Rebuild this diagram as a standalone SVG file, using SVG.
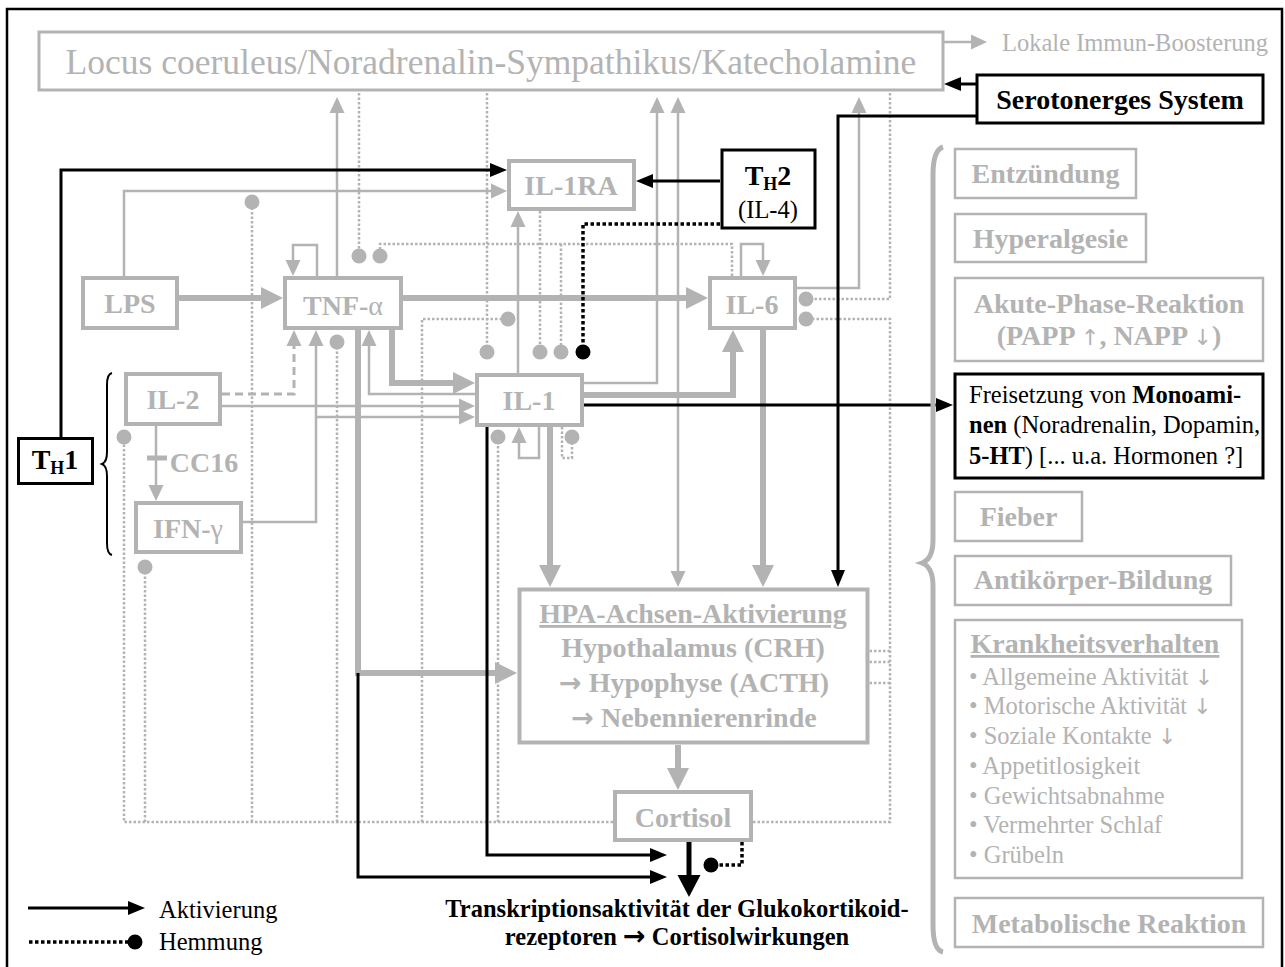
<svg xmlns="http://www.w3.org/2000/svg" width="1285" height="967" viewBox="0 0 1285 967">
<style>
  text { font-family: "Liberation Serif", "Times New Roman", serif; }
  .lbl { font-size: 28px; font-weight: bold; fill: #b3b3b3; text-anchor: middle; }
  .sm { font-size: 24.5px; }
  .gray { fill: #b3b3b3; }
  .blk { fill: #000; }
  .arr { font-family: "DejaVu Sans", sans-serif; font-weight: bold; font-size: 27px; }
  .arn { font-family: "DejaVu Sans", sans-serif; font-weight: normal; font-size: 22px; }
  .box { fill: #fff; stroke: #b3b3b3; stroke-width: 4; }
  .boxr { fill: #fff; stroke: #b3b3b3; stroke-width: 2.5; }
  .boxk { fill: #fff; stroke: #000; stroke-width: 3; }
  .g { fill: none; stroke: #b3b3b3; stroke-width: 2.5; }
  .gt { fill: none; stroke: #b3b3b3; stroke-width: 6; }
  .gd { fill: none; stroke: #b3b3b3; stroke-width: 2.5; stroke-dasharray: 2.5 2; }
  .gdash { fill: none; stroke: #b3b3b3; stroke-width: 3; stroke-dasharray: 8 5; }
  .k { fill: none; stroke: #000; stroke-width: 3; }
  .kt { fill: none; stroke: #000; stroke-width: 5; }
  .kd { fill: none; stroke: #000; stroke-width: 3.5; stroke-dasharray: 3.5 2.5; }
</style>
<defs>
  <!-- arrowheads: reference point sits at the base, tip extends beyond the path end -->
  <marker id="ag" markerUnits="userSpaceOnUse" markerWidth="17" markerHeight="16" refX="1" refY="7.5" orient="auto-start-reverse" overflow="visible">
    <path d="M0,0 L16,7.5 L0,15 z" fill="#b3b3b3"/>
  </marker>
  <marker id="agL" markerUnits="userSpaceOnUse" markerWidth="23" markerHeight="23" refX="1" refY="11" orient="auto" overflow="visible">
    <path d="M0,0 L22,11 L0,22 z" fill="#b3b3b3"/>
  </marker>
  <marker id="ak" markerUnits="userSpaceOnUse" markerWidth="18" markerHeight="15" refX="1" refY="7" orient="auto" overflow="visible">
    <path d="M0,0 L17,7 L0,14 z" fill="#000"/>
  </marker>
  <marker id="akL" markerUnits="userSpaceOnUse" markerWidth="23" markerHeight="24" refX="1" refY="11.5" orient="auto" overflow="visible">
    <path d="M0,0 L22,11.5 L0,23 z" fill="#000"/>
  </marker>
  <!-- inhibition dots -->
  <marker id="dg" markerUnits="userSpaceOnUse" markerWidth="16" markerHeight="16" refX="8" refY="8" orient="auto" overflow="visible">
    <circle cx="8" cy="8" r="7.5" fill="#b3b3b3"/>
  </marker>
  <marker id="dk" markerUnits="userSpaceOnUse" markerWidth="16" markerHeight="16" refX="8" refY="8" orient="auto" overflow="visible">
    <circle cx="8" cy="8" r="7.5" fill="#000"/>
  </marker>
</defs>

<rect x="0" y="0" width="1285" height="967" fill="#fff"/>
<!-- outer frame -->
<rect x="7" y="9" width="1275" height="962" fill="none" stroke="#000" stroke-width="2.5"/>

<g id="connectors">
  <!-- thin grey activations -->
  <path class="g" d="M944,42 H972" marker-end="url(#ag)"/>
  <path class="g" d="M337,276 V112" marker-end="url(#ag)"/>
  <path class="g" d="M317,276 V245 H293 V261" marker-end="url(#ag)"/>
  <path class="g" d="M124,276 V191 H492" marker-end="url(#ag)"/>
  <path class="g" d="M518,373 V226" marker-end="url(#ag)"/>
  <path class="g" d="M584,383 H657 V112" marker-end="url(#ag)"/>
  <path class="g" d="M678,112 V572" marker-start="url(#ag)" marker-end="url(#ag)"/>
  <path class="g" d="M797,288 H859 V112" marker-end="url(#ag)"/>
  <path class="g" d="M741,276 V244 H763 V261" marker-end="url(#ag)"/>
  <path class="gdash" d="M222,394 H294 V345" marker-end="url(#ag)"/>
  <path class="g" d="M222,406 H460" marker-end="url(#ag)"/>
  <path class="g" d="M243,522 H316 V345" marker-end="url(#ag)"/>
  <path class="g" d="M316,417 H460" marker-end="url(#ag)"/>
  <path class="g" d="M475,394 H369 V345" marker-end="url(#ag)"/>
  <path class="g" d="M156,426 V486" marker-end="url(#ag)"/>
  <path class="g" d="M539,427 V458 H519 V442" marker-end="url(#ag)"/>
  <!-- CC16 block bar -->
  <path d="M147,458 H167" stroke="#b3b3b3" stroke-width="5" fill="none"/>

  <!-- thick grey activations -->
  <path class="gt" d="M179,298 H262" marker-end="url(#agL)"/>
  <path class="gt" d="M403,298 H687" marker-end="url(#agL)"/>
  <path class="gt" stroke-width="5" d="M392,330 V383 H454" marker-end="url(#agL)"/>
  <path class="gt" d="M584,395 H733 V351" marker-end="url(#agL)"/>
  <path class="gt" stroke-width="5" d="M550,427 V566" marker-end="url(#agL)"/>
  <path class="gt" stroke-width="5" d="M763,330 V566" marker-end="url(#agL)"/>
  <path class="gt" d="M358,330 V673 H496" marker-end="url(#agL)"/>
  <path class="gt" d="M678,745 V769" marker-end="url(#agL)"/>

  <!-- grey inhibitions -->
  <path class="gd" d="M359,93 V256" marker-end="url(#dg)"/>
  <path class="gd" d="M732,276 V244 H380 V256" marker-end="url(#dg)"/>
  <path class="gd" d="M487,93 V352" marker-end="url(#dg)"/>
  <path class="gd" d="M540,211 V352" marker-end="url(#dg)"/>
  <path class="gd" d="M561,244 V352" marker-end="url(#dg)"/>
  <path class="gd" d="M890,93 V299 H806" marker-end="url(#dg)"/>
  <path class="gd" d="M753,822 H890 V319 H806" marker-end="url(#dg)"/>
  <path class="gd" d="M890,651 H840 V656"/>
  <path class="gd" d="M890,662 H838" marker-end="url(#dg)"/>
  <path class="gd" d="M890,683 H852" marker-end="url(#dg)"/>
  <path class="gd" d="M613,822 H124 V437" marker-end="url(#dg)"/>
  <path class="gd" d="M145,822 V567" marker-end="url(#dg)"/>
  <path class="gd" d="M252,822 V202" marker-end="url(#dg)"/>
  <path class="gd" d="M337,822 V342" marker-end="url(#dg)"/>
  <path class="gd" d="M422,822 V319 H508" marker-end="url(#dg)"/>
  <path class="gd" d="M498,822 V437" marker-end="url(#dg)"/>
  <path class="gd" d="M562,427 V458 H572 V437" marker-end="url(#dg)"/>

  <!-- black activations -->
  <path class="k" d="M61,437 V170 H491" marker-end="url(#ak)"/>
  <path class="k" d="M720,181 H652" marker-end="url(#ak)"/>
  <path class="k" d="M976,84 H960" marker-end="url(#ak)"/>
  <path class="k" d="M976,116 H838 V571" marker-end="url(#ak)"/>
  <path class="k" d="M584,405 H937" marker-end="url(#ak)"/>
  <path class="k" d="M487,427 V855 H651" marker-end="url(#ak)"/>
  <path class="k" d="M358,673 V877 H651" marker-end="url(#ak)"/>
  <path class="kt" d="M689,842 V876" marker-end="url(#akL)"/>

  <!-- black inhibitions -->
  <path class="kd" d="M720,224 H583 V352" marker-end="url(#dk)"/>
  <path class="kd" d="M742,842 V865 H711" marker-end="url(#dk)"/>

  <!-- braces -->
  <path d="M112,373 Q107,374 107,385 L107,452 Q107,462 102,464 Q107,466 107,476 L107,543 Q107,554 112,555" fill="none" stroke="#000" stroke-width="2"/>
  <path d="M943,147 Q933,150 933,175 L933,540 Q933,559 922,563 Q933,567 933,586 L933,925 Q933,950 943,952" fill="none" stroke="#b3b3b3" stroke-width="5"/>
</g>

<g id="locus">
  <rect x="39" y="32" width="904" height="58" fill="#fff" stroke="#b3b3b3" stroke-width="3"/>
  <text x="491" y="74" font-size="35.5" class="gray" text-anchor="middle">Locus coeruleus/Noradrenalin-Sympathikus/Katecholamine</text>
</g>
<g id="lokale">
  <text x="1002" y="51" class="sm gray">Lokale Immun-Boosterung</text>
</g>
<g id="serotonerg">
  <rect x="977" y="75" width="286" height="48" class="boxk" stroke-width="2.5"/>
  <text x="1120" y="109" font-size="28" font-weight="bold" text-anchor="middle" class="blk">Serotonerges System</text>
</g>
<g id="lps">
  <rect x="83" y="278" width="94" height="50" class="box"/>
  <text x="130" y="313" class="lbl">LPS</text>
</g>
<g id="tnf">
  <rect x="285" y="278" width="116" height="50" class="box"/>
  <text x="343" y="315" class="lbl">TNF-<tspan font-weight="normal">α</tspan></text>
</g>
<g id="il6">
  <rect x="710" y="278" width="85" height="50" class="box"/>
  <text x="752" y="314" class="lbl">IL-6</text>
</g>
<g id="il1ra">
  <rect x="509" y="161" width="125" height="48" class="box"/>
  <text x="571" y="195" class="lbl">IL-1RA</text>
</g>
<g id="il1">
  <rect x="477" y="375" width="105" height="50" class="box"/>
  <text x="529" y="410" class="lbl">IL-1</text>
</g>
<g id="il2">
  <rect x="126" y="374" width="94" height="50" class="box" stroke-width="3.5"/>
  <text x="173" y="409" class="lbl">IL-2</text>
</g>
<g id="cc16">
  <text x="204" y="472" class="lbl">CC16</text>
</g>
<g id="ifn">
  <rect x="136" y="503" width="105" height="49" class="box" stroke-width="3.5"/>
  <text x="188" y="538" class="lbl">IFN-<tspan font-weight="normal">γ</tspan></text>
</g>
<g id="th1">
  <rect x="18.5" y="438.5" width="74" height="45" class="boxk"/>
  <text x="55" y="469" font-size="28" font-weight="bold" text-anchor="middle" class="blk">T<tspan font-size="18" dy="5">H</tspan><tspan dy="-5">1</tspan></text>
</g>
<g id="th2">
  <rect x="722" y="150" width="93" height="78" class="boxk" stroke-width="3.5"/>
  <text x="768" y="185" font-size="28" font-weight="bold" text-anchor="middle" class="blk">T<tspan font-size="18" dy="5">H</tspan><tspan dy="-5">2</tspan></text>
  <text x="768" y="218" text-anchor="middle" class="sm blk">(IL-4)</text>
</g>
<g id="hpa">
  <rect x="519.5" y="589.5" width="348" height="153" class="box" stroke-width="5"/>
  <text x="693" y="623" class="lbl" text-decoration="underline">HPA-Achsen-Aktivierung</text>
  <text x="693" y="657" class="lbl">Hypothalamus (CRH)</text>
  <text x="694" y="692" class="lbl"><tspan class="arr">→</tspan> Hypophyse (ACTH)</text>
  <text x="694" y="727" class="lbl"><tspan class="arr">→</tspan> Nebennierenrinde</text>
</g>
<g id="cortisol">
  <rect x="615" y="792" width="136" height="48" class="box"/>
  <text x="683" y="827" class="lbl">Cortisol</text>
</g>
<g id="transkription">
  <text x="677" y="917" font-size="24.5" font-weight="bold" text-anchor="middle" class="blk">Transkriptionsaktivität der Glukokortikoid-</text>
  <text x="677" y="945" font-size="24.5" font-weight="bold" text-anchor="middle" class="blk">rezeptoren <tspan class="arr" font-size="24">→</tspan> Cortisolwirkungen</text>
</g>
<g id="entzuendung">
  <rect x="955" y="149" width="181" height="49" class="boxr"/>
  <text x="1045.5" y="183" class="lbl">Entzündung</text>
</g>
<g id="hyperalgesie">
  <rect x="955" y="214" width="191" height="48" class="boxr"/>
  <text x="1050.5" y="248" class="lbl">Hyperalgesie</text>
</g>
<g id="akutphase">
  <rect x="955" y="278" width="308" height="83" class="boxr"/>
  <text x="1109" y="313" class="lbl">Akute-Phase-Reaktion</text>
  <text x="1109" y="345" class="lbl">(PAPP <tspan class="arn">↑</tspan>, NAPP <tspan class="arn">↓</tspan>)</text>
</g>
<g id="monoamine">
  <rect x="955" y="374" width="308" height="104" class="boxk" stroke-width="2.5"/>
  <text x="969" y="403" class="sm blk">Freisetzung von <tspan font-weight="bold">Monoami-</tspan></text>
  <text x="969" y="433" class="sm blk"><tspan font-weight="bold">nen</tspan> (Noradrenalin, Dopamin,</text>
  <text x="969" y="464" class="sm blk"><tspan font-weight="bold">5-HT</tspan>) [... u.a. Hormonen ?]</text>
</g>
<g id="fieber">
  <rect x="955" y="492" width="127" height="49" class="boxr"/>
  <text x="1018.5" y="526" class="lbl">Fieber</text>
</g>
<g id="antikoerper">
  <rect x="955" y="556" width="276" height="49" class="boxr"/>
  <text x="1093" y="589" class="lbl">Antikörper-Bildung</text>
</g>
<g id="krankheitsverhalten">
  <rect x="955" y="620" width="287" height="258" class="boxr"/>
  <text x="1095" y="653" class="lbl" text-decoration="underline">Krankheitsverhalten</text>
  <text x="969" y="685" class="sm gray">• Allgemeine Aktivität <tspan class="arn">↓</tspan></text>
  <text x="969" y="714" class="sm gray">• Motorische Aktivität <tspan class="arn">↓</tspan></text>
  <text x="969" y="744" class="sm gray">• Soziale Kontakte <tspan class="arn">↓</tspan></text>
  <text x="969" y="774" class="sm gray">• Appetitlosigkeit</text>
  <text x="969" y="804" class="sm gray">• Gewichtsabnahme</text>
  <text x="969" y="833" class="sm gray">• Vermehrter Schlaf</text>
  <text x="969" y="863" class="sm gray">• Grübeln</text>
</g>
<g id="metabolisch">
  <rect x="955" y="898" width="308" height="49" class="boxr"/>
  <text x="1109" y="933" class="lbl">Metabolische Reaktion</text>
</g>
<g id="legend">
  <path class="k" d="M28,908 H129" marker-end="url(#ak)"/>
  <path class="kd" d="M29,942 H135" marker-end="url(#dk)"/>
  <text x="159" y="918" class="sm blk">Aktivierung</text>
  <text x="159" y="950" class="sm blk">Hemmung</text>
</g>
</svg>
